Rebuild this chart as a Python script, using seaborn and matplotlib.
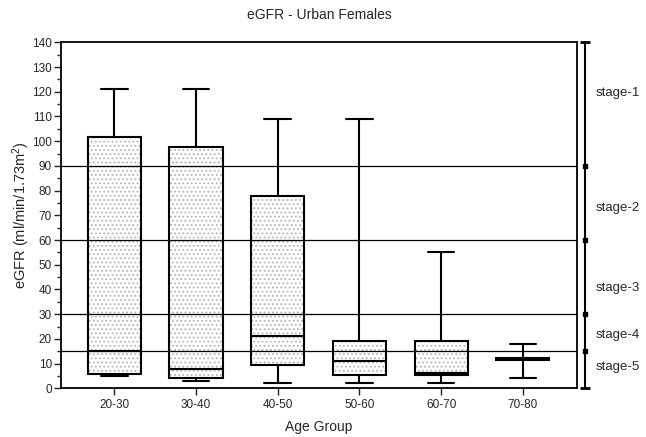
import matplotlib
matplotlib.use("Agg")
import matplotlib.pyplot as plt
import matplotlib.transforms as mtransforms
from matplotlib.patches import PathPatch
from matplotlib.ticker import MultipleLocator
import numpy as np
import pandas as pd
import seaborn as sns

# ---- data ----
groups = ["20-30", "30-40", "40-50", "50-60", "60-70", "70-80"]
whisker_low = [5.0, 3.0, 2.0, 2.0, 2.0, 4.0]
q1 = [5.9, 4.3, 9.4, 5.2, 5.4, 11.6]
median = [15.0, 8.0, 21.0, 11.0, 6.0, 12.0]
q3 = [101.8, 97.8, 78.0, 19.0, 19.0, 12.4]
whisker_high = [121.0, 121.0, 109.0, 109.0, 55.0, 18.0]

stage_bounds = [90, 60, 30, 15]
stage_labels = ["stage-1", "stage-2", "stage-3", "stage-4", "stage-5"]
stage_label_y = [119.5, 73, 40.5, 21.5, 8.8]

# five-number summaries -> long table (percentiles 0/25/50/75/100 reproduce them)
rows = []
for g, a, b, c, d, e in zip(groups, whisker_low, q1, median, q3, whisker_high):
    for v in (a, b, c, d, e):
        rows.append({"Age Group": g, "eGFR": v})
df = pd.DataFrame(rows)

sns.set_style("ticks")
plt.rcParams["font.family"] = ["Liberation Sans", "DejaVu Sans"]
plt.rcParams["mathtext.default"] = "regular"
plt.rcParams["hatch.linewidth"] = 0.8

fig = plt.figure(figsize=(6.46, 4.37), dpi=100)
ax = fig.add_axes([61 / 646, 1 - 388.3 / 437, 516 / 646, 346 / 437])

sns.boxplot(data=df, x="Age Group", y="eGFR", order=groups, whis=(0, 100),
            width=0.65, color="white", linecolor="black", linewidth=1.5,
            fliersize=0, ax=ax)

# dotted fill of the boxes
for p in list(ax.patches):
    p.set_facecolor("none")
    p.set_zorder(2.2)
    over = PathPatch(p.get_path(), transform=p.get_transform(),
                     facecolor="white", edgecolor="#b4b4b4", lw=0,
                     hatch="....", zorder=1.8)
    ax.add_patch(over)

# stage boundary lines
for yb in stage_bounds:
    ax.axhline(yb, color="black", lw=0.9, zorder=3)

ax.set_ylim(0, 140)
ax.set_xlim(-0.652, 5.663)
ax.yaxis.set_major_locator(MultipleLocator(10))
ax.yaxis.set_minor_locator(MultipleLocator(5))
ax.tick_params(axis="y", which="major", direction="out", length=5, width=1, labelsize=8.5, pad=1.5)
ax.tick_params(axis="y", which="minor", direction="out", length=3, width=1)
ax.tick_params(axis="x", which="major", direction="out", length=5, width=1, labelsize=8.5, pad=3)
for s in ax.spines.values():
    s.set_visible(True)
    s.set_linewidth(1.3)
    s.set_color("black")

ax.set_xlabel("Age Group", fontsize=10, labelpad=6)
ax.set_ylabel("eGFR (ml/min/1.73m$^2$)", fontsize=10.5, labelpad=0)
ax.set_title("eGFR - Urban Females", fontsize=10, pad=17)

# stage scale on the right
trans = mtransforms.blended_transform_factory(ax.transAxes, ax.transData)
xs = 1.0155
ax.plot([xs, xs], [0, 140], color="black", lw=1.5, transform=trans, clip_on=False)
ax.plot([xs] * len(stage_bounds), stage_bounds, linestyle="none", marker="s",
        markersize=2.8, color="black", transform=trans, clip_on=False)
ax.plot([xs, xs], [0, 140], linestyle="none", marker="_", markersize=7,
        markeredgewidth=2, color="black", transform=trans, clip_on=False)
for lab, yl in zip(stage_labels, stage_label_y):
    ax.text(1.036, yl, lab, transform=trans, fontsize=9.5, va="center", ha="left")

fig.savefig("out.png", dpi=100)
